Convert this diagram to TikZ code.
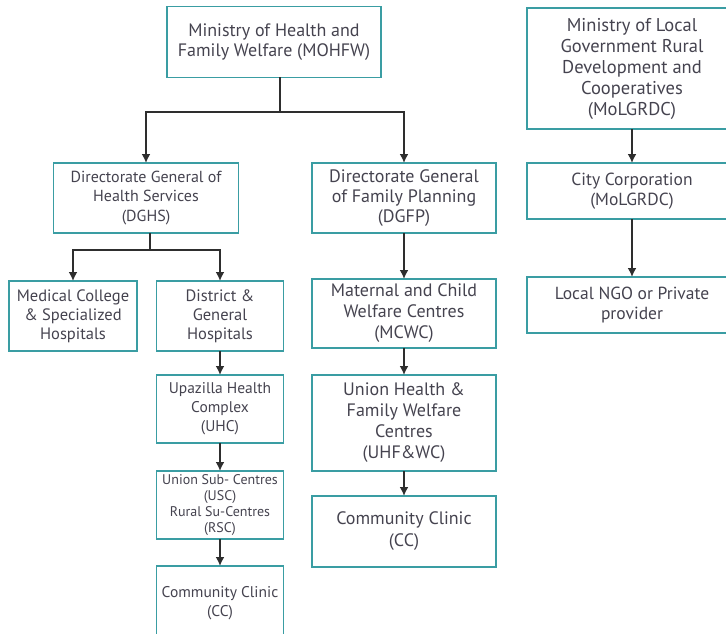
\documentclass[tikz,border=0pt]{standalone}
\usepackage{fontspec}
\setmainfont{PT Sans}
\usetikzlibrary{arrows.meta}
\definecolor{boxteal}{HTML}{3A9DA3}
\definecolor{txtgray}{HTML}{45434F}
\definecolor{linegray}{HTML}{2E2E2E}
\begin{document}
\begin{tikzpicture}[x=1pt,y=-1pt,
    orgbox/.style={draw=boxteal, line width=1.6pt, align=center, text=txtgray,
      inner sep=2pt, outer sep=0pt},
    link/.style={draw=linegray, line width=1.8pt, -{Latex[length=9pt,width=9pt]}},
    plain/.style={draw=linegray, line width=1.8pt}]

    \useasboundingbox (0,0) rectangle (726,634);

    % ministry of health
    \node[orgbox, minimum width=214pt, minimum height=71pt,
      font=\fontsize{18}{20}\selectfont] (mohfw) at (274,42)
      {Ministry of Health and\\Family Welfare (MOHFW)};

    % directorates
    \node[orgbox, minimum width=185pt, minimum height=70pt,
      font=\fontsize{16}{19.5}\selectfont] (dghs) at (146,198)
      {Directorate General of\\Health Services\\(DGHS)};
    \node[orgbox, minimum width=184pt, minimum height=70pt,
      font=\fontsize{18}{20}\selectfont] (dgfp) at (404,198)
      {Directorate General\\of Family Planning\\(DGFP)};

    % local government
    \node[orgbox, minimum width=210pt, minimum height=121pt,
      font=\fontsize{18.5}{21}\selectfont] (molgrdc) at (632,68.5)
      {Ministry of Local\\Government Rural\\Development and\\Cooperatives\\(MoLGRDC)};
    \node[orgbox, minimum width=210pt, minimum height=56pt,
      font=\fontsize{17.5}{20}\selectfont] (citycorp) at (632,191)
      {City Corporation\\(MoLGRDC)};
    \node[orgbox, minimum width=210pt, minimum height=56pt,
      font=\fontsize{17.5}{20}\selectfont] (ngo) at (632,305)
      {Local NGO or Private\\provider};

    % health services chain
    \node[orgbox, minimum width=128pt, minimum height=70pt,
      font=\fontsize{16.5}{19}\selectfont] (medcol) at (73,316)
      {Medical College\\\& Specialized\\Hospitals};
    \node[orgbox, minimum width=127pt, minimum height=70pt,
      font=\fontsize{16.5}{19}\selectfont] (district) at (220,316)
      {District \&\\General\\Hospitals};
    \node[orgbox, minimum width=127pt, minimum height=68pt,
      font=\fontsize{15.5}{19}\selectfont] (uhc) at (220,409)
      {Upazilla Health\\Complex\\(UHC)};
    \node[orgbox, minimum width=127pt, minimum height=68pt,
      font=\fontsize{14}{16}\selectfont] (usc) at (220,505)
      {Union Sub- Centres\\(USC)\\Rural Su-Centres\\(RSC)};
    \node[orgbox, minimum width=127pt, minimum height=74pt,
      font=\fontsize{15.5}{19}\selectfont] (ccl) at (220,603)
      {Community Clinic\\(CC)};

    % family planning chain
    \node[orgbox, minimum width=184pt, minimum height=69pt,
      font=\fontsize{18}{21}\selectfont] (mcwc) at (404,313.5)
      {Maternal and Child\\Welfare Centres\\(MCWC)};
    \node[orgbox, minimum width=184pt, minimum height=96pt,
      font=\fontsize{18}{21}\selectfont] (uhfwc) at (404,423)
      {Union Health \&\\Family Welfare\\Centres\\(UHF\&WC)};
    \node[orgbox, minimum width=184pt, minimum height=71pt,
      font=\fontsize{18}{22}\selectfont] (ccr) at (404,531.5)
      {Community Clinic\\(CC)};

    % branch points
    \coordinate (split) at (280,112);
    \coordinate (dsplit) at (150,250);

    % connectors
    \draw[plain] (split |- mohfw.south) -- (split);
    \draw[link] (split) -| (dghs.north);
    \draw[link] (split) -| (dgfp.north);
    \draw[plain] (dsplit |- dghs.south) -- (dsplit);
    \draw[link] (dsplit) -| (medcol.north);
    \draw[link] (dsplit) -| (district.north);
    \draw[link] (district) -- (uhc);
    \draw[link] (uhc) -- (usc);
    \draw[link] (usc) -- (ccl);
    \draw[link] (dgfp) -- (mcwc);
    \draw[link] (mcwc) -- (uhfwc);
    \draw[link] (uhfwc) -- (ccr);
    \draw[link] (molgrdc) -- (citycorp);
    \draw[link] (citycorp) -- (ngo);

\end{tikzpicture}
\end{document}
